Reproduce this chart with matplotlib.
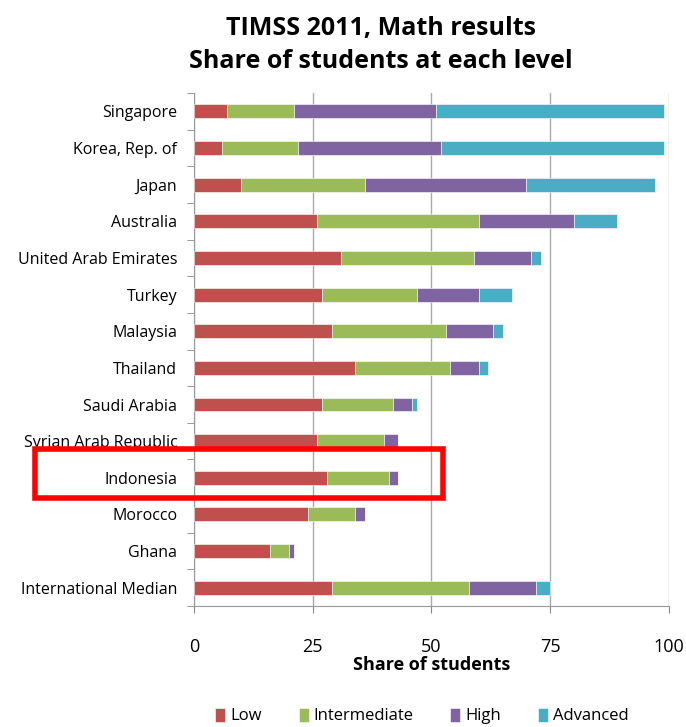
import matplotlib
matplotlib.use("Agg")
import matplotlib.pyplot as plt
import numpy as np
from matplotlib.patches import Rectangle

plt.rcParams["font.family"] = ["Open Sans", "DejaVu Sans"]

countries = ["Singapore", "Korea, Rep. of", "Japan", "Australia", "United Arab Emirates",
             "Turkey", "Malaysia", "Thailand", "Saudi Arabia", "Syrian Arab Republic",
             "Indonesia", "Morocco", "Ghana", "International Median"]
low          = [7, 6, 10, 26, 31, 27, 29, 34, 27, 26, 28, 24, 16, 29]
intermediate = [14, 16, 26, 34, 28, 20, 24, 20, 15, 14, 13, 10, 4, 29]
high         = [30, 30, 34, 20, 12, 13, 10, 6, 4, 3, 2, 2, 1, 14]
advanced     = [48, 47, 27, 9, 2, 7, 2, 2, 1, 0, 0, 0, 0, 3]
levels = ["Low", "Intermediate", "High", "Advanced"]
colors = ["#C0504D", "#9BBB59", "#8064A2", "#4BACC6"]
highlight = "Indonesia"

fig = plt.figure(figsize=(6.86, 7.27), dpi=100)
ax = fig.add_axes([0.2828, 0.1664, 0.6922, 0.7056])

y = np.arange(len(countries))
left = np.zeros(len(countries))
for vals, lab, col in zip([low, intermediate, high, advanced], levels, colors):
    ax.barh(y, vals, left=left, height=0.38, color=col, label=lab,
            edgecolor="white", linewidth=0.4, zorder=3)
    left += np.array(vals)

ax.set_ylim(len(countries) - 0.5, -0.5)
ax.set_xlim(0, 100)
ax.set_xticks([0, 25, 50, 75, 100])
ax.set_yticks(y)
ax.set_yticklabels(countries, fontsize=11.5)
ax.set_yticks(np.arange(len(countries) + 1) - 0.5, minor=True)
ax.tick_params(axis="y", which="major", length=0, pad=12)
ax.tick_params(axis="y", which="minor", length=5, color="#888888", direction="out")
ax.tick_params(axis="x", length=5, color="#888888", labelsize=13, pad=18)
ax.grid(axis="x", color="#AAAAAA", linewidth=1, zorder=0)
for s in ["top", "right"]:
    ax.spines[s].set_visible(False)
for s in ["left", "bottom"]:
    ax.spines[s].set_color("#999999")
ax.set_xlabel("Share of students", fontsize=13, fontweight="bold", labelpad=0)

fig.text(0.555, 0.938, "TIMSS 2011, Math results\nShare of students at each level",
         ha="center", va="center", fontsize=18, fontweight="bold", linespacing=1.42)

idx = countries.index(highlight)
box = Rectangle((-33.5, idx - 0.78), 86, 1.32, fill=False, edgecolor="#FF0000",
                linewidth=4, clip_on=False, zorder=5)
ax.add_patch(box)

ax.legend(loc="lower center", bbox_to_anchor=(0.48, -0.26), ncol=4, frameon=False,
          fontsize=12, handlelength=0.6, handleheight=0.9, handletextpad=0.3,
          columnspacing=2.2)

fig.savefig("out.png", dpi=100)
